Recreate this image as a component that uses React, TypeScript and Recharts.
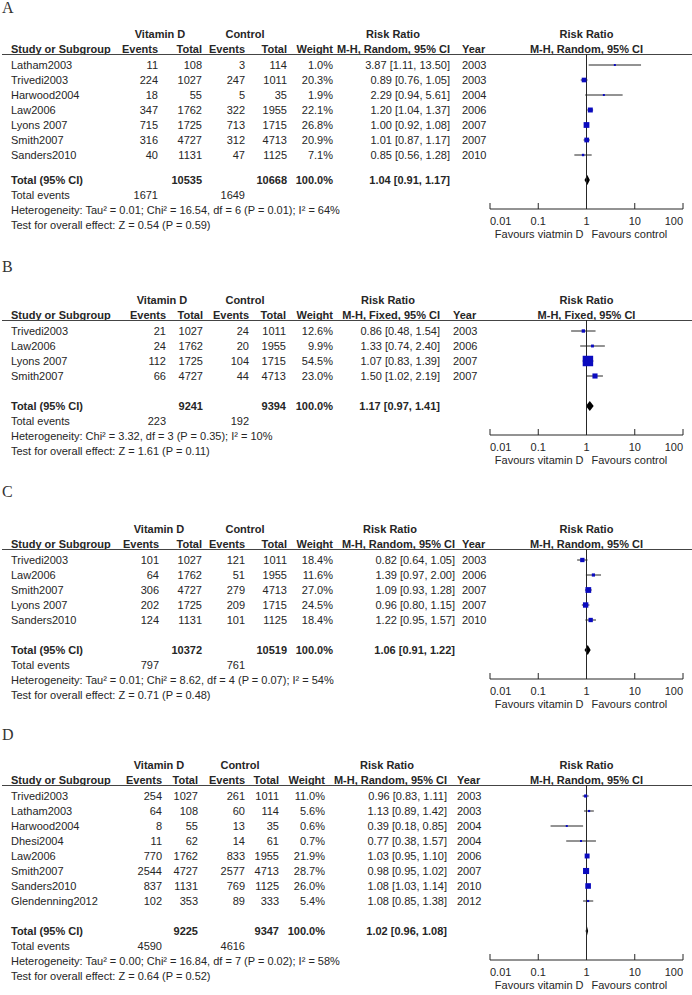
import React from 'react'
import { ComposedChart, Scatter, ErrorBar, XAxis, YAxis, ReferenceLine, ReferenceArea } from 'recharts'

type Row = { study: string; ve: number; vt: number; ce: number; ct: number; w: number; rr: number; lo: number; hi: number; year: number }
type Total = { vt: number; ct: number; rr: number; lo: number; hi: number; ve: number; ce: number }

// A - random effects
const rowsA: Row[] = [
  { study: 'Latham2003', ve: 11, vt: 108, ce: 3, ct: 114, w: 1.0, rr: 3.87, lo: 1.11, hi: 13.5, year: 2003 },
  { study: 'Trivedi2003', ve: 224, vt: 1027, ce: 247, ct: 1011, w: 20.3, rr: 0.89, lo: 0.76, hi: 1.05, year: 2003 },
  { study: 'Harwood2004', ve: 18, vt: 55, ce: 5, ct: 35, w: 1.9, rr: 2.29, lo: 0.94, hi: 5.61, year: 2004 },
  { study: 'Law2006', ve: 347, vt: 1762, ce: 322, ct: 1955, w: 22.1, rr: 1.2, lo: 1.04, hi: 1.37, year: 2006 },
  { study: 'Lyons 2007', ve: 715, vt: 1725, ce: 713, ct: 1715, w: 26.8, rr: 1.0, lo: 0.92, hi: 1.08, year: 2007 },
  { study: 'Smith2007', ve: 316, vt: 4727, ce: 312, ct: 4713, w: 20.9, rr: 1.01, lo: 0.87, hi: 1.17, year: 2007 },
  { study: 'Sanders2010', ve: 40, vt: 1131, ce: 47, ct: 1125, w: 7.1, rr: 0.85, lo: 0.56, hi: 1.28, year: 2010 },
]
const totalA: Total = { vt: 10535, ct: 10668, rr: 1.04, lo: 0.91, hi: 1.17, ve: 1671, ce: 1649 }
const hetA = 'Heterogeneity: Tau² = 0.01; Chi² = 16.54, df = 6 (P = 0.01); I² = 64%'
const testA = 'Test for overall effect: Z = 0.54 (P = 0.59)'

// B - fixed effects
const rowsB: Row[] = [
  { study: 'Trivedi2003', ve: 21, vt: 1027, ce: 24, ct: 1011, w: 12.6, rr: 0.86, lo: 0.48, hi: 1.54, year: 2003 },
  { study: 'Law2006', ve: 24, vt: 1762, ce: 20, ct: 1955, w: 9.9, rr: 1.33, lo: 0.74, hi: 2.4, year: 2006 },
  { study: 'Lyons 2007', ve: 112, vt: 1725, ce: 104, ct: 1715, w: 54.5, rr: 1.07, lo: 0.83, hi: 1.39, year: 2007 },
  { study: 'Smith2007', ve: 66, vt: 4727, ce: 44, ct: 4713, w: 23.0, rr: 1.5, lo: 1.02, hi: 2.19, year: 2007 },
]
const totalB: Total = { vt: 9241, ct: 9394, rr: 1.17, lo: 0.97, hi: 1.41, ve: 223, ce: 192 }
const hetB = 'Heterogeneity: Chi² = 3.32, df = 3 (P = 0.35); I² = 10%'
const testB = 'Test for overall effect: Z = 1.61 (P = 0.11)'

// C
const rowsC: Row[] = [
  { study: 'Trivedi2003', ve: 101, vt: 1027, ce: 121, ct: 1011, w: 18.4, rr: 0.82, lo: 0.64, hi: 1.05, year: 2003 },
  { study: 'Law2006', ve: 64, vt: 1762, ce: 51, ct: 1955, w: 11.6, rr: 1.39, lo: 0.97, hi: 2.0, year: 2006 },
  { study: 'Smith2007', ve: 306, vt: 4727, ce: 279, ct: 4713, w: 27.0, rr: 1.09, lo: 0.93, hi: 1.28, year: 2007 },
  { study: 'Lyons 2007', ve: 202, vt: 1725, ce: 209, ct: 1715, w: 24.5, rr: 0.96, lo: 0.8, hi: 1.15, year: 2007 },
  { study: 'Sanders2010', ve: 124, vt: 1131, ce: 101, ct: 1125, w: 18.4, rr: 1.22, lo: 0.95, hi: 1.57, year: 2010 },
]
const totalC: Total = { vt: 10372, ct: 10519, rr: 1.06, lo: 0.91, hi: 1.22, ve: 797, ce: 761 }
const hetC = 'Heterogeneity: Tau² = 0.01; Chi² = 8.62, df = 4 (P = 0.07); I² = 54%'
const testC = 'Test for overall effect: Z = 0.71 (P = 0.48)'

// D
const rowsD: Row[] = [
  { study: 'Trivedi2003', ve: 254, vt: 1027, ce: 261, ct: 1011, w: 11.0, rr: 0.96, lo: 0.83, hi: 1.11, year: 2003 },
  { study: 'Latham2003', ve: 64, vt: 108, ce: 60, ct: 114, w: 5.6, rr: 1.13, lo: 0.89, hi: 1.42, year: 2003 },
  { study: 'Harwood2004', ve: 8, vt: 55, ce: 13, ct: 35, w: 0.6, rr: 0.39, lo: 0.18, hi: 0.85, year: 2004 },
  { study: 'Dhesi2004', ve: 11, vt: 62, ce: 14, ct: 61, w: 0.7, rr: 0.77, lo: 0.38, hi: 1.57, year: 2004 },
  { study: 'Law2006', ve: 770, vt: 1762, ce: 833, ct: 1955, w: 21.9, rr: 1.03, lo: 0.95, hi: 1.1, year: 2006 },
  { study: 'Smith2007', ve: 2544, vt: 4727, ce: 2577, ct: 4713, w: 28.7, rr: 0.98, lo: 0.95, hi: 1.02, year: 2007 },
  { study: 'Sanders2010', ve: 837, vt: 1131, ce: 769, ct: 1125, w: 26.0, rr: 1.08, lo: 1.03, hi: 1.14, year: 2010 },
  { study: 'Glendenning2012', ve: 102, vt: 353, ce: 89, ct: 333, w: 5.4, rr: 1.08, lo: 0.85, hi: 1.38, year: 2012 },
]
const totalD: Total = { vt: 9225, ct: 9347, rr: 1.02, lo: 0.96, hi: 1.08, ve: 4590, ce: 4616 }
const hetD = 'Heterogeneity: Tau² = 0.00; Chi² = 16.84, df = 7 (P = 0.02); I² = 58%'
const testD = 'Test for overall effect: Z = 0.64 (P = 0.52)'

const axisTicks = [0.01, 0.1, 1, 10, 100]

const FONT = '"Liberation Sans", Arial, sans-serif'
const INK = '#262626'
const BLUE = '#0b0bbf'
const ROW = 15
const PLOT_L = 490
const PLOT_R = 683
const MID = (PLOT_L + PLOT_R) / 2

type Cols = { ev1: number; tot1: number; ev2: number; tot2: number; w: number; rr: number; year: number; vitC: number; ctlC: number; rrC: number }

const fmtCI = (rr: number, lo: number, hi: number) => `${rr.toFixed(2)} [${lo.toFixed(2)}, ${hi.toFixed(2)}]`

function T({ x, y, children, align = 'left', bold = false }: { x: number; y: number; children: React.ReactNode; align?: 'left' | 'right' | 'center'; bold?: boolean }) {
  const w = 400
  const left = align === 'left' ? x : align === 'right' ? x - w : x - w / 2
  return (
    <div style={{ position: 'absolute', top: y - 7, left, width: w, height: 14, lineHeight: '14px', textAlign: align, whiteSpace: 'nowrap', fontWeight: bold ? 700 : 400 }}>
      {children}
    </div>
  )
}

const AxisTick = (p: any) => {
  const v = p.payload.value
  const i = p.index
  const anchor = i === 0 ? 'start' : i === axisTicks.length - 1 ? 'end' : 'middle'
  return (
    <g>
      <line x1={p.x} x2={p.x} y1={p.y - 6} y2={p.y} stroke={INK} strokeWidth={1} />
      <text x={p.x} y={p.y + 16} textAnchor={anchor} fontSize={11} fontFamily={FONT} fill={INK}>{String(v)}</text>
    </g>
  )
}

const boxSize = (w: number) => Math.max(2, 0.17 * w + 1.2)

const Square = (p: any) => {
  const s = boxSize(p.payload.w)
  return <rect x={p.cx - s / 2} y={p.cy - s / 2} width={s} height={s} fill={BLUE} />
}

function Panel({ letter, letterY, lineY, totalGap, rows, total, het, test, method, favLeft, cols }: {
  letter: string; letterY: number; lineY: number; totalGap: number; rows: Row[]; total: Total; het: string; test: string; method: string; favLeft: string; cols: Cols
}) {
  const n = rows.length
  const rowY = (i: number) => lineY + 11 + i * ROW
  const totalIdx = n - 1 + totalGap / ROW
  const totalY = rowY(totalIdx)
  const axisIdx = totalIdx + 29 / ROW
  const plotH = (axisIdx + 11 / ROW) * ROW
  const axisY = lineY + plotH
  const points = rows.map((r, i) => ({ rr: r.rr, y: i, w: r.w, ci: [r.rr - r.lo, r.hi - r.rr] }))
  const f = Math.log(total.rr / total.lo) / Math.log(total.hi / total.lo)
  const Diamond = (p: any) => {
    const mx = p.x + p.width * f
    const my = p.y + p.height / 2
    return <polygon points={`${p.x},${my} ${mx},${p.y} ${p.x + p.width},${my} ${mx},${p.y + p.height}`} fill="#000" />
  }
  return (
    <>
      <div style={{ position: 'absolute', left: 2, top: letterY - 9, fontFamily: '"Liberation Serif", "DejaVu Serif", serif', fontSize: 16, lineHeight: '18px', color: '#333' }}>{letter}</div>
      <T x={cols.vitC} y={lineY - 20} align="center" bold>Vitamin D</T>
      <T x={cols.ctlC} y={lineY - 20} align="center" bold>Control</T>
      <T x={cols.rrC} y={lineY - 20} align="center" bold>Risk Ratio</T>
      <T x={MID} y={lineY - 20} align="center" bold>Risk Ratio</T>
      <T x={11} y={lineY - 5} bold>Study or Subgroup</T>
      <T x={cols.ev1} y={lineY - 5} align="right" bold>Events</T>
      <T x={cols.tot1} y={lineY - 5} align="right" bold>Total</T>
      <T x={cols.ev2} y={lineY - 5} align="right" bold>Events</T>
      <T x={cols.tot2} y={lineY - 5} align="right" bold>Total</T>
      <T x={cols.w} y={lineY - 5} align="right" bold>Weight</T>
      <T x={cols.rr} y={lineY - 5} align="right" bold>{method}</T>
      <T x={cols.year} y={lineY - 5} bold>Year</T>
      <T x={MID} y={lineY - 5} align="center" bold>{method}</T>
      <div style={{ position: 'absolute', left: 2, width: 690, top: lineY, height: 1, background: '#444' }} />
      {rows.map((r, i) => (
        <React.Fragment key={r.study}>
          <T x={11} y={rowY(i)}>{r.study}</T>
          <T x={cols.ev1} y={rowY(i)} align="right">{r.ve}</T>
          <T x={cols.tot1} y={rowY(i)} align="right">{r.vt}</T>
          <T x={cols.ev2} y={rowY(i)} align="right">{r.ce}</T>
          <T x={cols.tot2} y={rowY(i)} align="right">{r.ct}</T>
          <T x={cols.w} y={rowY(i)} align="right">{r.w.toFixed(1)}%</T>
          <T x={cols.rr} y={rowY(i)} align="right">{fmtCI(r.rr, r.lo, r.hi)}</T>
          <T x={cols.year} y={rowY(i)}>{r.year}</T>
        </React.Fragment>
      ))}
      <T x={11} y={totalY} bold>Total (95% CI)</T>
      <T x={cols.tot1} y={totalY} align="right" bold>{total.vt}</T>
      <T x={cols.tot2} y={totalY} align="right" bold>{total.ct}</T>
      <T x={cols.w} y={totalY} align="right" bold>100.0%</T>
      <T x={cols.rr} y={totalY} align="right" bold>{fmtCI(total.rr, total.lo, total.hi)}</T>
      <T x={11} y={totalY + 15}>Total events</T>
      <T x={cols.ev1} y={totalY + 15} align="right">{total.ve}</T>
      <T x={cols.ev2} y={totalY + 15} align="right">{total.ce}</T>
      <T x={11} y={totalY + 30}>{het}</T>
      <T x={11} y={totalY + 45}>{test}</T>
      <T x={MID - 3} y={axisY + 25} align="right">{favLeft}</T>
      <T x={MID + 5} y={axisY + 25}>Favours control</T>
      <div style={{ position: 'absolute', left: 0, top: lineY }}>
        <ComposedChart width={692} height={plotH + 24} margin={{ top: 0, right: 692 - PLOT_R, bottom: 0, left: PLOT_L }} data={points}>
          <XAxis type="number" dataKey="rr" scale="log" domain={[0.01, 100]} ticks={axisTicks} interval={0} allowDataOverflow
            height={24} tickLine={false} tickSize={0} tickMargin={0} axisLine={{ stroke: INK }} tick={<AxisTick />} />
          <YAxis type="number" dataKey="y" domain={[-11 / ROW, axisIdx]} reversed hide allowDataOverflow />
          <ReferenceLine x={1} stroke={INK} strokeWidth={1} />
          <Scatter data={points} isAnimationActive={false} shape={Square}>
            <ErrorBar dataKey="ci" direction="x" width={0} stroke={INK} strokeWidth={1} isAnimationActive={false} />
          </Scatter>
          <ReferenceArea x1={total.lo} x2={total.hi} y1={totalIdx - 0.33} y2={totalIdx + 0.33} shape={Diamond} />
        </ComposedChart>
      </div>
    </>
  )
}

export default function App() {
  return (
    <div style={{ position: 'absolute', left: 0, top: 0, width: 692, height: 995, background: '#fff', fontFamily: FONT, fontSize: 11, color: INK, overflow: 'hidden' }}>
      <Panel letter="A" letterY={8} lineY={54} totalGap={25} rows={rowsA} total={totalA} het={hetA} test={testA} method="M-H, Random, 95% CI" favLeft="Favours viatmin D"
        cols={{ ev1: 158, tot1: 202, ev2: 245, tot2: 287, w: 333, rr: 450, year: 462, vitC: 160, ctlC: 245, rrC: 393 }} />
      <Panel letter="B" letterY={267} lineY={320} totalGap={30} rows={rowsB} total={totalB} het={hetB} test={testB} method="M-H, Fixed, 95% CI" favLeft="Favours vitamin D"
        cols={{ ev1: 166, tot1: 203, ev2: 249, tot2: 286, w: 333, rr: 440, year: 453, vitC: 162, ctlC: 245, rrC: 388 }} />
      <Panel letter="C" letterY={492} lineY={549} totalGap={30} rows={rowsC} total={totalC} het={hetC} test={testC} method="M-H, Random, 95% CI" favLeft="Favours vitamin D"
        cols={{ ev1: 159, tot1: 202, ev2: 245, tot2: 287, w: 333, rr: 455, year: 462, vitC: 159, ctlC: 245, rrC: 390 }} />
      <Panel letter="D" letterY={735} lineY={785} totalGap={30} rows={rowsD} total={totalD} het={hetD} test={testD} method="M-H, Random, 95% CI" favLeft="Favours vitamin D"
        cols={{ ev1: 162, tot1: 198, ev2: 245, tot2: 279, w: 325, rr: 447, year: 457, vitC: 159, ctlC: 240, rrC: 387 }} />
    </div>
  )
}
